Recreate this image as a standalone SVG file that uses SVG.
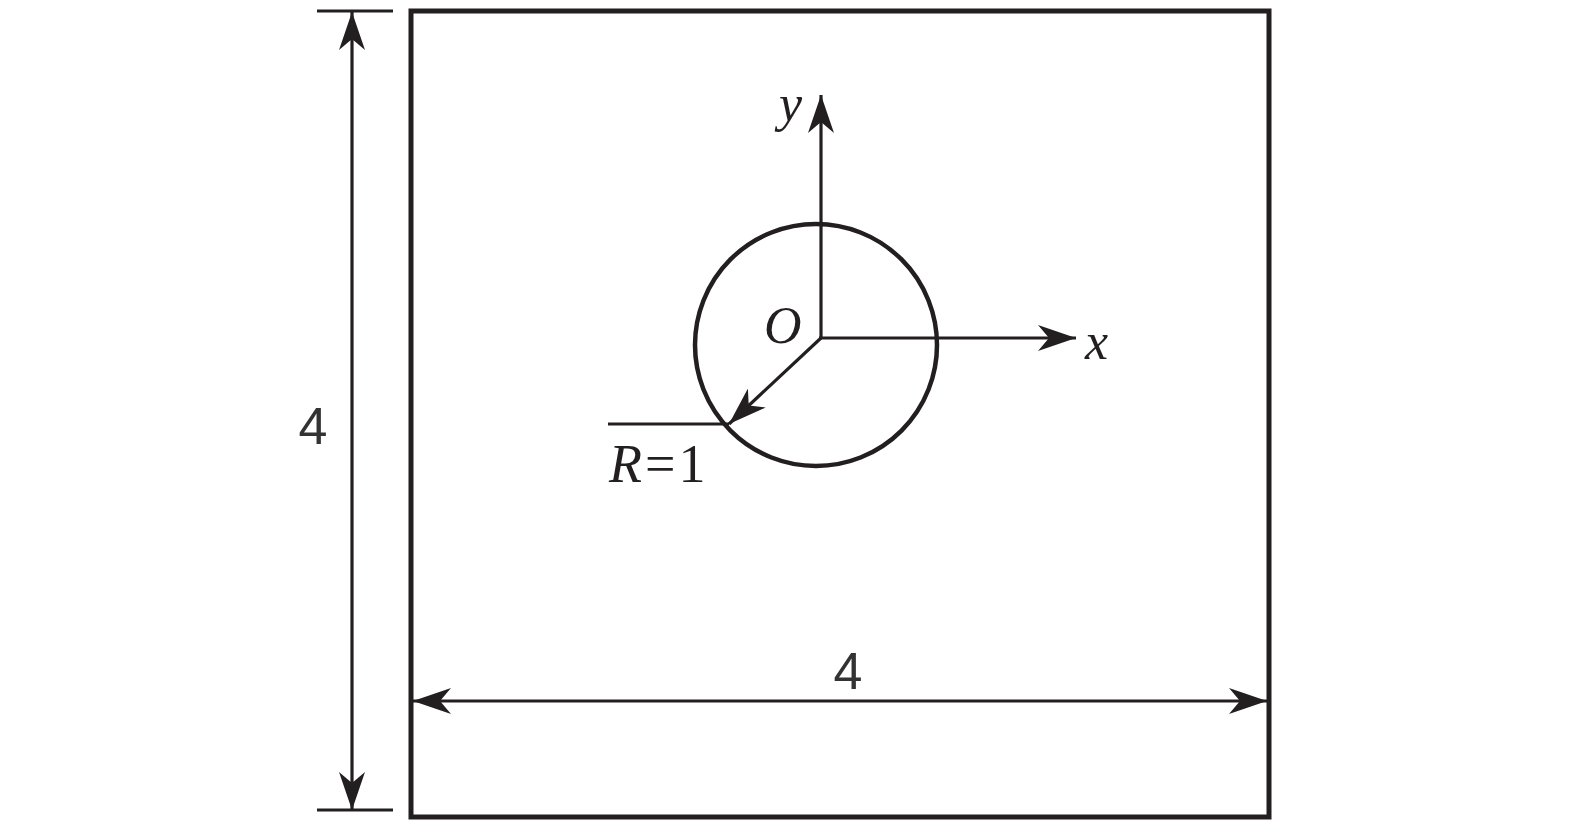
<svg xmlns="http://www.w3.org/2000/svg" width="1575" height="833" viewBox="0 0 1575 833">
<style>
.thick{fill:none;stroke:#231f20;stroke-width:5;stroke-linecap:square}
.circ{fill:none;stroke:#231f20;stroke-width:4.5}
.thin{fill:none;stroke:#231f20;stroke-width:3.2}
.lbl{font-family:"Liberation Serif","Times New Roman",serif;font-size:52px;fill:#231f20}
.it{font-style:italic}
.num{font-family:"Liberation Sans",Arial,sans-serif;font-size:52px;fill:#333}
</style>
<defs>
<marker id="ah" viewBox="0 0 38 26" refX="38" refY="13" markerWidth="38" markerHeight="26" markerUnits="userSpaceOnUse" orient="auto-start-reverse">
<path d="M0,0 L38,13 L0,26 L11,13 Z" fill="#231f20"/>
</marker>
</defs>
<rect fill="#fff" width="1575" height="833"/>
<g id="plate">
<rect class="thick" x="411" y="11" width="858" height="806"/>
</g>
<g id="hole">
<circle class="circ" cx="816" cy="345" r="121"/>
</g>
<g id="connectors">
<line class="thin" x1="352" y1="12" x2="352" y2="810" marker-start="url(#ah)" marker-end="url(#ah)"/>
<line class="thin" x1="317" y1="11" x2="393" y2="11"/>
<line class="thin" x1="317" y1="810" x2="393" y2="810"/>
<line class="thin" x1="413" y1="701" x2="1267" y2="701" marker-start="url(#ah)" marker-end="url(#ah)"/>
<line class="thin" x1="821" y1="338" x2="821" y2="95" marker-end="url(#ah)"/>
<line class="thin" x1="819" y1="338" x2="1076" y2="338" marker-end="url(#ah)"/>
<line class="thin" x1="821" y1="338" x2="729" y2="424" marker-end="url(#ah)"/>
<line class="thin" x1="608" y1="424" x2="729" y2="424"/>
</g>
<g id="labels">
<text class="num" x="313" y="444" text-anchor="middle">4</text>
<text class="num" x="848" y="689" text-anchor="middle">4</text>
<text class="lbl it" x="779" y="121">y</text>
<text class="lbl it" x="764" y="343">O</text>
<text class="lbl it" x="1085" y="359">x</text>
<text class="lbl" x="609" y="482" style="font-size:54px;letter-spacing:3px"><tspan class="it">R</tspan>=1</text>
</g>
</svg>
